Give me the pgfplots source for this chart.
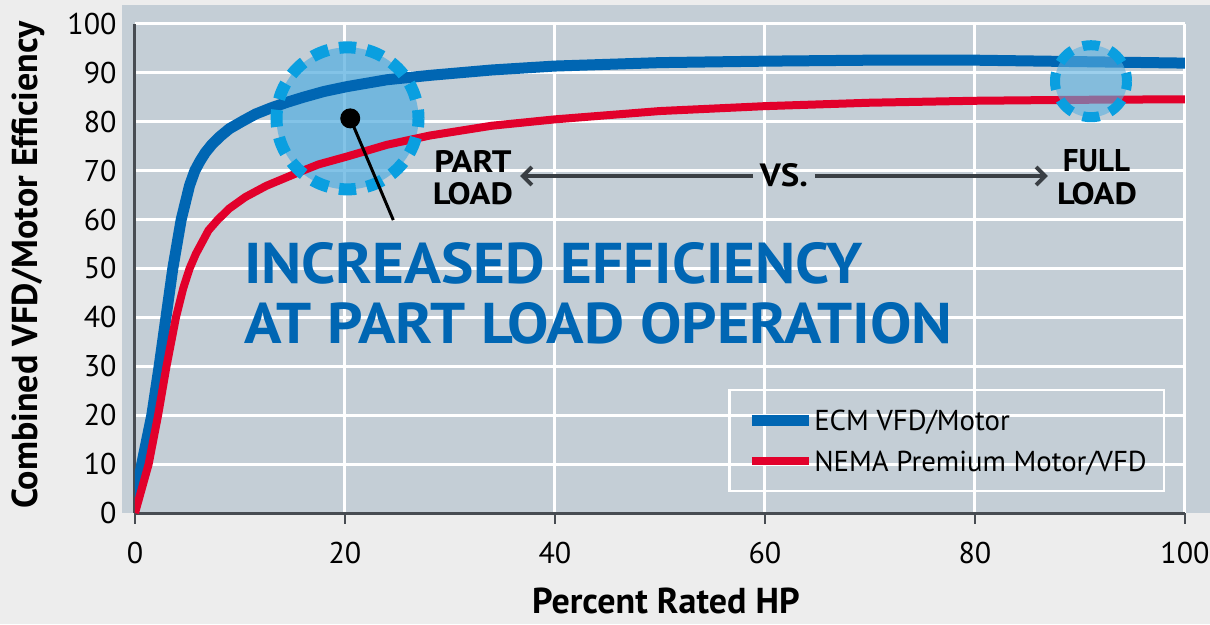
\documentclass[border=0pt]{standalone}
\usepackage{fontspec}
\setmainfont{PT Sans}
\usepackage{graphicx}
\usepackage{pgfplots}
\pgfplotsset{compat=1.18}
\usetikzlibrary{arrows.meta}
\definecolor{panel}{HTML}{C4CED6}
\definecolor{outerbg}{HTML}{EDEDED}
\definecolor{ecm}{HTML}{0066B3}
\definecolor{nema}{HTML}{E2002B}
\definecolor{ring}{HTML}{0A9FE0}
\definecolor{ringfill}{HTML}{5AB0E0}
\definecolor{axisgray}{HTML}{474C52}
\definecolor{arrowgray}{HTML}{3A3F44}
\begin{document}
\begin{tikzpicture}
\fill[outerbg] (-135pt,-111pt) rectangle (1075pt,513pt);
\fill[panel] (-13pt,0pt) rectangle (1075pt,508pt);
\begin{axis}[
  at={(0pt,0pt)}, anchor=south west,
  scale only axis, width=1050pt, height=489pt,
  xmin=0, xmax=100, ymin=0, ymax=100,
  xtick={0,20,...,100}, ytick={0,10,...,100},
  axis x line*=bottom, axis y line*=left,
  axis line style={-, axisgray, line width=3pt},
  grid=major, grid style={white, line width=3pt},
  tick align=outside, major tick length=11pt,
  xtick style={axisgray, line width=2.5pt},
  ytick style={draw=none},
  /pgf/number format/assume math mode=true,
  tick label style={font=\fontsize{30}{30}\selectfont, black},
  xticklabel style={yshift=-15pt},
  yticklabel style={xshift=-4pt},
  xlabel={Percent Rated HP},
  ylabel={Combined VFD/Motor Efficiency},
  label style={font=\fontsize{36}{36}\selectfont\bfseries, black, inner sep=0pt},
  xlabel style={at={(axis description cs:0.5057,-0.179)}, anchor=center},
  ylabel style={at={(axis description cs:-0.1019,0.507)}, anchor=center},
  legend style={at={(rel axis cs:0.5648,0.2536)}, anchor=north west,
    draw=white, line width=2.5pt, fill=none,
    font=\fontsize{28.8}{28.8}\selectfont,
    inner xsep=17pt, inner ysep=20pt, row sep=21pt,
    nodes={inner sep=0pt, text height=20pt, text depth=0pt},
    /tikz/every even column/.append style={column sep=14pt}},
  legend cell align=left,
  legend image code/.code={\draw[#1] (0pt,0pt) -- (57pt,0pt);},
]
\fill[ringfill, opacity=0.75] (axis cs:20.24,80.7) circle[radius=71pt];
\addplot[ecm, line width=11pt, line join=round] coordinates {
(0,2) (0.64,10) (1.6,20) (2.3,30) (2.95,40) (3.6,50) (4.4,60) (5.2,67) (5.7,70) (6.2,72) (6.7,73.7) (7.3,75.3) (8.1,77) (9,78.6) (10.3,80.2) (11.5,81.6) (12.9,82.8) (14.5,84) (16,85) (18,86.2) (20.2,87.2) (24,88.6) (28.1,89.5) (34,90.6) (40,91.4) (50,92.1) (60,92.4) (70,92.6) (80,92.6) (90,92.3) (100,92.0)};
\addlegendentry{ECM VFD/Motor}
\addplot[nema, line width=8pt, line join=round] coordinates {
(0,0) (1.3,10) (2.2,20) (3.0,30) (3.9,40) (4.6,46) (5.2,50) (5.8,53) (6.3,55) (7.0,57.8) (7.9,60) (9,62.3) (10.5,64.6) (12.5,66.9) (15.4,69.5) (17.5,71.3) (20.2,72.9) (24,75.3) (28.1,77.2) (34,79.2) (40,80.5) (50,82.2) (60,83.2) (70,83.9) (80,84.3) (90,84.5) (100,84.6)};
\addlegendentry{NEMA Premium Motor/VFD}
\draw[ring, line width=12pt, dash pattern=on 17pt off 10.88pt, dash phase=8.5pt] (axis cs:20.24,80.7) circle[radius=71pt];
\fill[ringfill, opacity=0.6] (axis cs:91.05,88.3) circle[radius=36pt];
\draw[ring, line width=10pt, dash pattern=on 17pt off 11.27pt, dash phase=8.5pt] (axis cs:91.05,88.3) circle[radius=36pt];
\draw[black, line width=3pt] (axis cs:20.5,80.7) -- (axis cs:24.6,59.9);
\fill[black] (axis cs:20.5,80.7) circle[radius=10pt];
\node[inner sep=0pt, font=\bfseries] at (axis cs:32.19,71.98) {\resizebox{77pt}{22pt}{PART}};
\node[inner sep=0pt, font=\bfseries] at (axis cs:32.19,65.24) {\resizebox{80pt}{22pt}{LOAD}};
\node[inner sep=0pt, font=\bfseries] at (axis cs:61.8,69.1) {\resizebox{48pt}{23pt}{VS.}};
\node[inner sep=0pt, font=\bfseries] at (axis cs:91.57,71.98) {\resizebox{67pt}{22pt}{FULL}};
\node[inner sep=0pt, font=\bfseries] at (axis cs:91.62,65.24) {\resizebox{80pt}{22pt}{LOAD}};
\draw[arrowgray, line width=4pt, -{Straight Barb[length=9pt, width=18pt]}] (axis cs:58.86,68.92) -- (axis cs:36.67,68.92);
\draw[arrowgray, line width=4pt, -{Straight Barb[length=9pt, width=18pt]}] (axis cs:64.76,68.92) -- (axis cs:86.95,68.92);
\node[inner sep=0pt, anchor=base west, text=ecm, font=\bfseries] at (axis cs:10.38,47.03) {\resizebox{618pt}{41pt}{INCREASED EFFICIENCY}};
\node[inner sep=0pt, anchor=base west, text=ecm, font=\bfseries] at (axis cs:10.38,34.76) {\resizebox{708pt}{41pt}{AT PART LOAD OPERATION}};
\end{axis}
\pgfresetboundingbox
\useasboundingbox (-135pt,-111pt) rectangle (1075pt,513pt);
\end{tikzpicture}
\end{document}
